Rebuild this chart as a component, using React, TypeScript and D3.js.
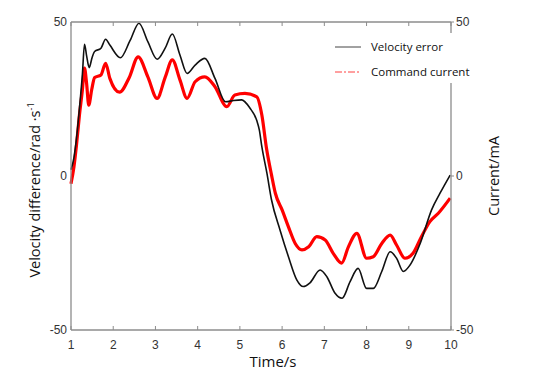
import * as d3 from 'd3';

// velocity error (black), rad/s
const velT = [1.0, 1.07, 1.13, 1.2, 1.27, 1.32, 1.37, 1.43, 1.5, 1.56, 1.71, 1.82, 1.92, 2.17, 2.4, 2.61, 2.82, 3.04, 3.23, 3.4, 3.58, 3.75, 3.94, 4.17, 4.41, 4.66, 4.85, 5.04, 5.24, 5.4, 5.46, 5.52, 5.64, 5.75, 5.95, 6.15, 6.35, 6.5, 6.66, 6.9, 7.06, 7.25, 7.42, 7.61, 7.8, 8.0, 8.16, 8.36, 8.56, 8.71, 8.87, 9.03, 9.27, 9.54, 9.74, 9.98];
const velV = [2, 6, 12.2, 22, 33, 42.8, 39, 35.2, 38.5, 40.4, 41.5, 44.4, 42.5, 38.4, 44, 49.6, 43.6, 37.9, 41.5, 46.1, 39.3, 33.3, 36, 38.2, 31.7, 24.1, 24.5, 24.7, 22, 18, 15, 9.5, 0.9, -7.8, -17.5, -26.2, -33.8, -35.9, -34.7, -30.5, -32.7, -38, -39.7, -34.3, -30, -36.5, -36.5, -31, -24.6, -26.7, -31, -28.9, -21.9, -11, -5.6, 0.3];

// command current (red), mA
const curT = [1.0, 1.07, 1.13, 1.2, 1.27, 1.32, 1.37, 1.42, 1.49, 1.56, 1.71, 1.82, 1.92, 2.15, 2.38, 2.59, 2.82, 3.04, 3.23, 3.4, 3.58, 3.75, 3.94, 4.17, 4.41, 4.69, 4.88, 5.12, 5.4, 5.52, 5.63, 5.75, 5.84, 6.0, 6.15, 6.31, 6.47, 6.63, 6.82, 7.02, 7.21, 7.41, 7.57, 7.77, 8.0, 8.16, 8.36, 8.56, 8.71, 8.91, 9.1, 9.3, 9.5, 9.7, 9.98];
const curV = [-2.5, 3, 10, 19.8, 28, 35, 30, 23, 28, 32, 32.8, 36.6, 31.7, 27.2, 32, 38.7, 32.2, 25.2, 32, 37.7, 31.2, 25.2, 30.6, 32.2, 29, 22.5, 26.3, 26.8, 25.7, 19.8, 9, 0.3, -5.6, -11, -16.5, -21.9, -24, -23, -19.7, -20.8, -25.1, -28.3, -23, -18.6, -26.7, -26.2, -21.9, -19.2, -22.4, -26.7, -25.1, -19.7, -14.8, -12.1, -7.2];

const xTicks = [1, 2, 3, 4, 5, 6, 7, 8, 9, 10];
const yTicks = [-50, 0, 50];
const legendItems = ['Velocity error', 'Command current'];

const W = 533;
const H = 387;
const left = 71;
const right = 451;
const top = 22;
const bottom = 330;

export default function App() {
  const x = d3.scaleLinear().domain([1, 10]).range([left, right]);
  const y = d3.scaleLinear().domain([-50, 50]).range([bottom, top]);
  const y2 = d3.scaleLinear().domain([-50, 50]).range([bottom, top]);

  const lineGen = (ts: number[], vs: number[], sc: d3.ScaleLinear<number, number>) =>
    d3.line<number>()
      .x((_, i) => x(ts[i]))
      .y(d => sc(d))
      .curve(d3.curveMonotoneX)(vs) || '';

  const axisColor = '#8c8c8c';
  const tickFont = '"Liberation Sans", Arial, sans-serif';
  const titleFont = '"Open Sans", "Noto Sans", sans-serif';

  return (
    <svg width={W} height={H} style={{ position: 'absolute', left: 0, top: 0, background: '#fff' }}>
      {/* curves */}
      <path d={lineGen(curT, curV, y2)} fill="none" stroke="#ff0000" strokeWidth={3.2} strokeLinejoin="round" />
      <path d={lineGen(velT, velV, y)} fill="none" stroke="#111" strokeWidth={1.6} strokeLinejoin="round" />

      {/* frame */}
      <line x1={left} x2={right} y1={bottom} y2={bottom} stroke={axisColor} strokeWidth={1.3} />
      <line x1={left} x2={right} y1={top} y2={top} stroke={axisColor} strokeWidth={1.3} />
      <line x1={left} x2={left} y1={top} y2={bottom} stroke={axisColor} strokeWidth={1.3} />
      <line x1={right} x2={right} y1={top} y2={bottom} stroke={axisColor} strokeWidth={1.3} />

      {xTicks.map(t => (
        <g key={t}>
          <line x1={x(t)} x2={x(t)} y1={bottom} y2={bottom - 4} stroke={axisColor} />
          <line x1={x(t)} x2={x(t)} y1={top} y2={top + 4} stroke={axisColor} />
          <text x={x(t)} y={bottom + 19} textAnchor="middle" fontFamily={tickFont} fontSize={12} fill="#333">{t}</text>
        </g>
      ))}
      {yTicks.map(t => (
        <g key={t}>
          <text x={left - 4} y={y(t) + 4} textAnchor="end" fontFamily={tickFont} fontSize={12} fill="#333">{t}</text>
          <line x1={right} x2={right + 3} y1={y2(t)} y2={y2(t)} stroke={axisColor} />
          <text x={right + 5} y={y2(t) + 4} textAnchor="start" fontFamily={tickFont} fontSize={12} fill="#333">{t}</text>
        </g>
      ))}

      {/* legend */}
      <rect x={330} y={33} width={126} height={50} fill="#fff" />
      <line x1={335} x2={361} y1={47} y2={47} stroke="#444" strokeWidth={1} />
      <line x1={335} x2={361} y1={72} y2={72} stroke="#ff4040" strokeWidth={1} strokeDasharray="7 2 2 2" />
      <text x={371} y={51} fontFamily={titleFont} fontSize={11.5} fill="#111">{legendItems[0]}</text>
      <text x={371} y={76} fontFamily={titleFont} fontSize={11.5} fill="#111">{legendItems[1]}</text>

      {/* axis titles */}
      <text x={273} y={367} textAnchor="middle" fontFamily={titleFont} fontSize={15} fill="#111">Time/s</text>
      <text transform={`translate(40,190) rotate(-90)`} textAnchor="middle" fontFamily={titleFont} fontSize={14.5} fill="#111">
        Velocity difference/rad ·s<tspan fontSize={9} dy={-6}>-1</tspan>
      </text>
      <text transform={`translate(499,176) rotate(-90)`} textAnchor="middle" fontFamily={titleFont} fontSize={14.5} fill="#111">Current/mA</text>
    </svg>
  );
}
